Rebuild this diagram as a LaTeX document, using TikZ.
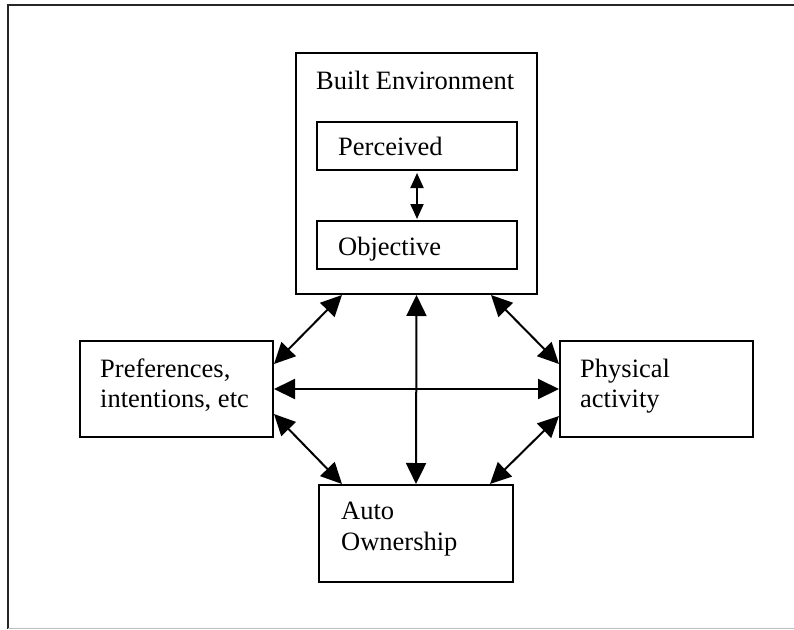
\documentclass[tikz,border=0pt]{standalone}
\usepackage{fontspec}
\setmainfont{Liberation Serif}
\usetikzlibrary{arrows.meta}
\begin{document}
\begin{tikzpicture}[x=1pt,y=-1pt,
  box/.style={draw=black,line width=2pt,inner sep=0pt,rectangle},
  txt/.style={anchor=base west,inner sep=0pt,font=\fontsize{26.5}{30}\selectfont},
  link/.style={line width=2pt,{Triangle[length=21pt,width=20pt]}-{Triangle[length=21pt,width=20pt]}},
  small/.style={line width=2pt,shorten <=2pt,shorten >=1pt,{Triangle[length=15pt,width=13pt]}-{Triangle[length=15pt,width=13pt]}},
  frame/.style={line width=1.4pt,draw=black!85}]
\useasboundingbox (0,0) rectangle (794,629);
% outer frame
\coordinate (ftl) at (8,5);
\coordinate (ftr) at (794,5);
\coordinate (fbl) at (8,629);
\coordinate (fbl2) at (8,628);
\coordinate (fbr) at (794,628);
\draw[frame] (ftr) -- (ftl) -- (fbl);
\draw[line width=1pt,draw=black!25] (fbl2) -- (fbr);
% boxes
\node[box,minimum width=241pt,minimum height=241pt] (be) at (416.5,173.5) {};
\node[box,minimum width=200pt,minimum height=48pt] (per) at (417,146) {};
\node[box,minimum width=200pt,minimum height=48pt] (obj) at (417,245) {};
\node[box,minimum width=193pt,minimum height=96pt] (pref) at (176.5,389) {};
\node[box,minimum width=193pt,minimum height=96pt] (phys) at (656.5,389) {};
\node[box,minimum width=194pt,minimum height=97pt] (auto) at (416,533.5) {};
% texts
\node[txt] (tbe) at (316,89) {Built Environment};
\node[txt] (tper) at (338,155) {Perceived};
\node[txt] (tobj) at (338,255) {Objective};
\node[txt] (tpref1) at (100,377) {Preferences,};
\node[txt] (tpref2) at (100,407) {intentions, etc};
\node[txt] (tphys1) at (580,377) {Physical};
\node[txt] (tphys2) at (580,407) {activity};
\node[txt] (tauto1) at (341,519) {Auto};
\node[txt] (tauto2) at (341,550) {Ownership};
% connectors
\draw[small] (per.south) -- (obj.north);
\draw[link] (be.south) -- (auto.north);
\draw[link] (pref.east) -- (phys.west);
\draw[link] ([xshift=47pt]be.south west) -- ([yshift=-24pt]pref.north east);
\draw[link] ([xshift=-47pt]be.south east) -- ([yshift=-24pt]phys.north west);
\draw[link] ([yshift=24pt]pref.south east) -- ([xshift=24pt]auto.north west);
\draw[link] ([yshift=22pt]phys.south west) -- ([xshift=-24pt]auto.north east);
\end{tikzpicture}
\end{document}
